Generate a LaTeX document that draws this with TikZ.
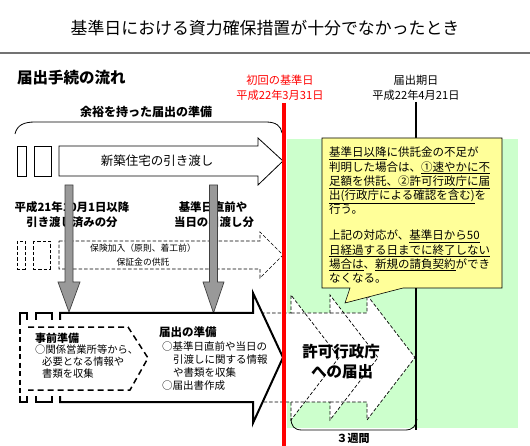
\documentclass[tikz,border=0pt]{standalone}
\usepackage{fontspec}
\setmainfont{Noto Sans CJK JP}
\newcommand\myfs[2]{\fontsize{#1}{#2}\selectfont}
\definecolor{lgreen}{HTML}{CCFFCC}
\definecolor{lyellow}{HTML}{FFFF99}
\definecolor{agray}{HTML}{999999}
\definecolor{adark}{HTML}{404040}
\tikzset{
  thinbox/.style={draw=black, line width=0.8pt, fill=white},
  dsh/.style={draw=black, line width=0.7pt, dash pattern=on 3.5pt off 2pt},
  thickdsh/.style={draw=black, line width=1.6pt, dash pattern=on 5pt off 3.5pt},
  grayarrow/.style={fill=agray, draw=adark, line width=0.7pt},
  lbl/.style={inner sep=0pt, text=black},
}
\begin{document}
\begin{tikzpicture}[x=1pt,y=-1pt]
\useasboundingbox (0,0) rectangle (530,446);
% green zone
\fill[lgreen] (287,139) rectangle (518,428);
% title
\node[lbl, font=\myfs{16.9}{20}] (title) at (265,28) {基準日における資力確保措置が十分でなかったとき};
\draw[line width=1.8pt, draw=black!55] (0,53) -- (530,53);
\node[lbl, anchor=west, font=\myfs{15.5}{18}\bfseries] (flow) at (17,78) {届出手続の流れ};
% dates
\node[lbl, text=red, font=\myfs{11.2}{13}] (d1a) at (280,80) {初回の基準日};
\node[lbl, text=red, font=\myfs{11.2}{13}] (d1b) at (280,95) {平成22年3月31日};
\node[lbl, font=\myfs{11.2}{13}] (d2a) at (416,80) {届出期日};
\node[lbl, font=\myfs{11.2}{13}] (d2b) at (416,95) {平成22年4月21日};
% top brace
\node[lbl, font=\myfs{12}{14}\bfseries] (yoyu) at (146,112) {余裕を持った届出の準備};
\draw[line width=0.8pt] (15,134) .. controls (17,125) and (24,122) .. (35,122) -- (266,122) .. controls (276,122) and (281,126) .. (282,133);
% new housing arrow
\draw[thinbox] (17,146) rectangle (26,176);
\draw[thinbox] (34,146) rectangle (51,176);
\draw[thinbox] (59,146) -- (258,146) -- (258,138) -- (283,161) -- (258,185) -- (258,176) -- (59,176) -- cycle;
\node[lbl, font=\myfs{12.5}{14}] (shinchiku) at (157,161) {新築住宅の引き渡し};
% dashed insurance arrow
\draw[dsh] (17,241) rectangle (25,269);
\draw[dsh] (33,241) rectangle (50,269);
\draw[dsh] (59,241) -- (260,241) -- (260,232) -- (283,255) -- (260,278) -- (260,269) -- (59,269) -- cycle;
\node[lbl, font=\myfs{8.8}{10}] (hoken1) at (143,248) {保険加入（原則、着工前）};
\node[lbl, font=\myfs{8.8}{10}] (hoken2) at (143,262) {保証金の供託};
% labels over gray arrows
\node[lbl, font=\myfs{11.4}{13}\bfseries] (h21a) at (72,207) {平成21年10月1日以降};
\node[lbl, font=\myfs{11.4}{13}\bfseries] (h21b) at (72,222) {引き渡し済みの分};
\node[lbl, font=\myfs{11.4}{13}\bfseries] (kija) at (213,207) {基準日直前や};
\node[lbl, font=\myfs{11.4}{13}\bfseries] (kijb) at (214,222) {当日の引渡し分};
% gray arrows
\draw[grayarrow] (65,185) -- (73,185) -- (73,282) -- (80,282) -- (69,312) -- (58,282) -- (65,282) -- cycle;
\draw[grayarrow] (209.5,185) -- (217.5,185) -- (217.5,282) -- (224,282) -- (213.5,313) -- (203,282) -- (209.5,282) -- cycle;
% dashed chevrons (permit office notification)
\fill[white] (250,313) -- (291,313) -- (291,295) -- (339,357.5) -- (291,420) -- (291,402) -- (250,402) -- cycle;
\fill[white] (291,313) -- (330,313) -- (330,295) -- (378,357.5) -- (330,420) -- (330,402) -- (291,402) -- cycle;
\fill[white] (330,313) -- (367,313) -- (367,295) -- (415,357.5) -- (367,420) -- (367,402) -- (330,402) -- cycle;
\draw[dsh] (250,313) -- (291,313) -- (291,295) -- (339,357.5) -- (291,420) -- (291,402) -- (250,402);
\draw[dsh] (291,313) -- (330,313) -- (330,295) -- (378,357.5) -- (330,420) -- (330,402) -- (291,402);
\draw[dsh] (330,313) -- (367,313) -- (367,295) -- (415,357.5) -- (367,420) -- (367,402) -- (330,402);
\node[lbl, font=\myfs{15.5}{18}\bfseries] (kyoka1) at (341,352) {許可行政庁};
\node[lbl, font=\myfs{15.5}{18}\bfseries] (kyoka2) at (342,372) {への届出};
% three weeks bracket
\draw[line width=0.8pt] (291,418) .. controls (291,426) and (294,430) .. (302,430) -- (405,430) .. controls (413,430) and (416,426) .. (417,419);
\node[lbl, font=\myfs{11}{13}\bfseries] (weeks) at (353,438) {３週間};
% big black arrow
\draw[line width=2pt, fill=white] (20,313) rectangle (27,402);
\draw[line width=2pt, fill=white] (36,313) rectangle (52,402);
\draw[line width=2pt, fill=white, line join=miter] (60,313) -- (253,313) -- (253,293) -- (283,357.5) -- (253,423) -- (253,402) -- (60,402) -- cycle;
\fill[white] (18,320) rectangle (150,395.5);
\draw[thickdsh] (20,320) -- (20,395.5);
\draw[line width=1.5pt, dash pattern=on 6pt off 4pt] (28,327) -- (128,327) -- (148,358) -- (130,390) -- (28,390);
\node[lbl, anchor=west, font=\myfs{11}{13}\bfseries] (jizen) at (35,338) {事前準備};
\node[lbl, anchor=north west, align=left, font=\myfs{10.3}{12}] (jizenb) at (35,345) {○関係営業所等から、\\\hspace*{7pt}必要となる情報や\\\hspace*{7pt}書類を収集};
\node[lbl, anchor=west, font=\myfs{11.5}{13}\bfseries] (todoke) at (159,332) {届出の準備};
\node[lbl, anchor=north west, align=left, font=\myfs{10.5}{13.1}] (todokeb) at (162,341.5) {○基準日直前や当日の\\\hspace*{11pt}引渡しに関する情報\\\hspace*{11pt}や書類を収集\\○届出書作成};
% vertical date lines
\draw[line width=2pt] (416,102) -- (416,430);
\draw[line width=4.5pt, draw=red] (284,103) -- (284,446);
% callout
\draw[fill=lyellow, line width=0.6pt, line join=miter] (322,138) -- (502,138) -- (502,288) -- (403,288) -- (345,303) -- (350,288) -- (322,288) -- cycle;
\node[lbl, anchor=north west, align=left, font=\myfs{11.5}{14.2}] (note) at (329,147) {\underline{基準日以降}に供託金の不足が\\判明した場合は、\underline{①速やかに不}\\\underline{足額を供託、②許可行政庁に届}\\\underline{出(行政庁による確認を含む)}を\\行う。\\[12pt]上記の対応が、\underline{基準日から50}\\\underline{日経過する日までに終了しない}\\\underline{場合は}、\underline{新規の請負契約}ができ\\なくなる。};
\end{tikzpicture}
\end{document}
